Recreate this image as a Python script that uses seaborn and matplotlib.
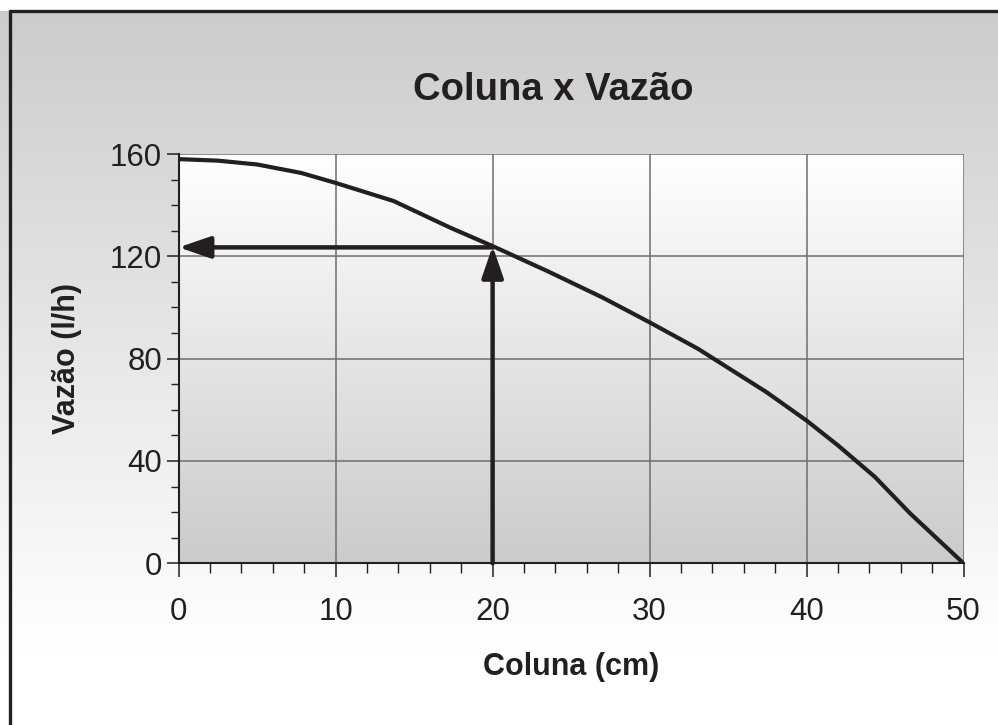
import numpy as np
import pandas as pd
import matplotlib
matplotlib.use("Agg")
import matplotlib.pyplot as plt
import seaborn as sns
from matplotlib.colors import LinearSegmentedColormap
from matplotlib.lines import Line2D
from matplotlib.ticker import MultipleLocator

# ---- data ----
coluna = [0, 2.5, 5, 7.8, 10, 13.7, 17.3, 20, 23.5, 27, 30, 33.1, 37.45, 40, 42, 44.35, 46.6, 50]
vazao = [158, 157.4, 155.9, 152.6, 148.7, 141.6, 131.2, 124, 114.2, 103.9, 94.2, 83.8, 66.9, 55.8, 46.1, 33.8, 19.5, 0]
leitura_coluna = 20
leitura_vazao = 124
x_ticks = [0, 10, 20, 30, 40, 50]
y_ticks = [0, 40, 80, 120, 160]
titulo = "Coluna x Vazão"
rotulo_x = "Coluna (cm)"
rotulo_y = "Vazão (l/h)"

df = pd.DataFrame({"Coluna": coluna, "Vazao": vazao})

sns.set_theme(style="white")
plt.rcParams["font.family"] = ["Liberation Sans", "DejaVu Sans"]

W, H = 998, 725
fig = plt.figure(figsize=(W / 100, H / 100), dpi=100)
fig.patch.set_facecolor("white")

# figure background gradient (gray at top -> white toward bottom)
bg = fig.add_axes([0, 0, 1, 1], zorder=-10)
bg.set_axis_off()
rows = np.arange(H)
vals = np.clip((rows - 12) / (650 - 12), 0, 1)
grad_fig = (0.80 + 0.20 * vals)[:, None]
rgb = np.dstack([grad_fig, grad_fig, grad_fig])
rgb[:11, :, :] = 1.0
bg.imshow(np.repeat(rgb, 2, axis=1), aspect="auto", extent=[0, 1, 0, 1], origin="upper",
          interpolation="bilinear")
bg.set_xlim(0, 1)
bg.set_ylim(0, 1)

# frame lines (top and left)
fig.add_artist(Line2D([8.5 / W, 1.0], [1 - 11 / H, 1 - 11 / H], color="#231f20", lw=2.4,
                      transform=fig.transFigure, solid_capstyle="butt"))
fig.add_artist(Line2D([9.5 / W, 9.5 / W], [0, 1 - 10 / H], color="#231f20", lw=2.4,
                      transform=fig.transFigure, solid_capstyle="butt"))

ax = fig.add_axes([178.7 / W, (H - 563.3) / H, (963.5 - 178.7) / W, (563.3 - 154) / H])
ax.set_facecolor("none")

# plot-area gradient (white at top -> gray at bottom)
cmap = LinearSegmentedColormap.from_list("g", ["#ffffff", "#cbcbcb"])
ax.imshow(np.linspace(0, 1, 256)[:, None], cmap=cmap, aspect="auto",
          extent=[0, 50, 0, 160], origin="upper", zorder=0)

sns.lineplot(data=df, x="Coluna", y="Vazao", ax=ax, color="#231f20", linewidth=3.0,
             sort=False, estimator=None, zorder=5)

ax.set_xlim(0, 50)
ax.set_ylim(0, 160)
ax.set_xticks(x_ticks)
ax.set_yticks(y_ticks)
ax.xaxis.set_minor_locator(MultipleLocator(2))
ax.yaxis.set_minor_locator(MultipleLocator(10))
ax.grid(True, which="major", color="#6d6e71", linewidth=1.1)
for gl in ax.get_xgridlines() + ax.get_ygridlines():
    gl.set_zorder(2)

ax.tick_params(axis="x", which="major", direction="out", length=10, width=1.1, color="#231f20",
               labelsize=22.5, pad=14, labelcolor="#231f20", bottom=True)
ax.tick_params(axis="x", which="minor", direction="out", length=7, width=1.0, color="#231f20", bottom=True)
ax.tick_params(axis="y", which="major", direction="out", length=9, width=1.1, color="#231f20",
               labelsize=22.5, pad=3, labelcolor="#231f20", left=True)
ax.tick_params(axis="y", which="minor", direction="out", length=6, width=1.0, color="#231f20", left=True)

for s in ["top", "right"]:
    ax.spines[s].set_visible(False)
for s in ["left", "bottom"]:
    ax.spines[s].set_color("#231f20")
    ax.spines[s].set_linewidth(1.5)
    ax.spines[s].set_zorder(6)

# reading arrows
arrow_kw = dict(arrowstyle="-|>,head_length=1.6,head_width=0.55", color="#231f20", lw=3.2,
                shrinkA=0, shrinkB=0)
ax.annotate("", xy=(0, leitura_vazao - 0.5), xytext=(leitura_coluna, leitura_vazao - 0.5),
            arrowprops=arrow_kw, zorder=7)
ax.annotate("", xy=(leitura_coluna, leitura_vazao), xytext=(leitura_coluna, 0),
            arrowprops=arrow_kw, zorder=7)

ax.set_xlabel(rotulo_x, fontsize=22, fontweight="bold", color="#231f20", labelpad=18)
ax.set_ylabel(rotulo_y, fontsize=22, fontweight="bold", color="#231f20", labelpad=20)

fig.text(553 / W, 1 - 90 / H, titulo, ha="center", va="center",
         fontsize=27.5, fontweight="bold", color="#231f20")

fig.savefig("out.png", dpi=100)
